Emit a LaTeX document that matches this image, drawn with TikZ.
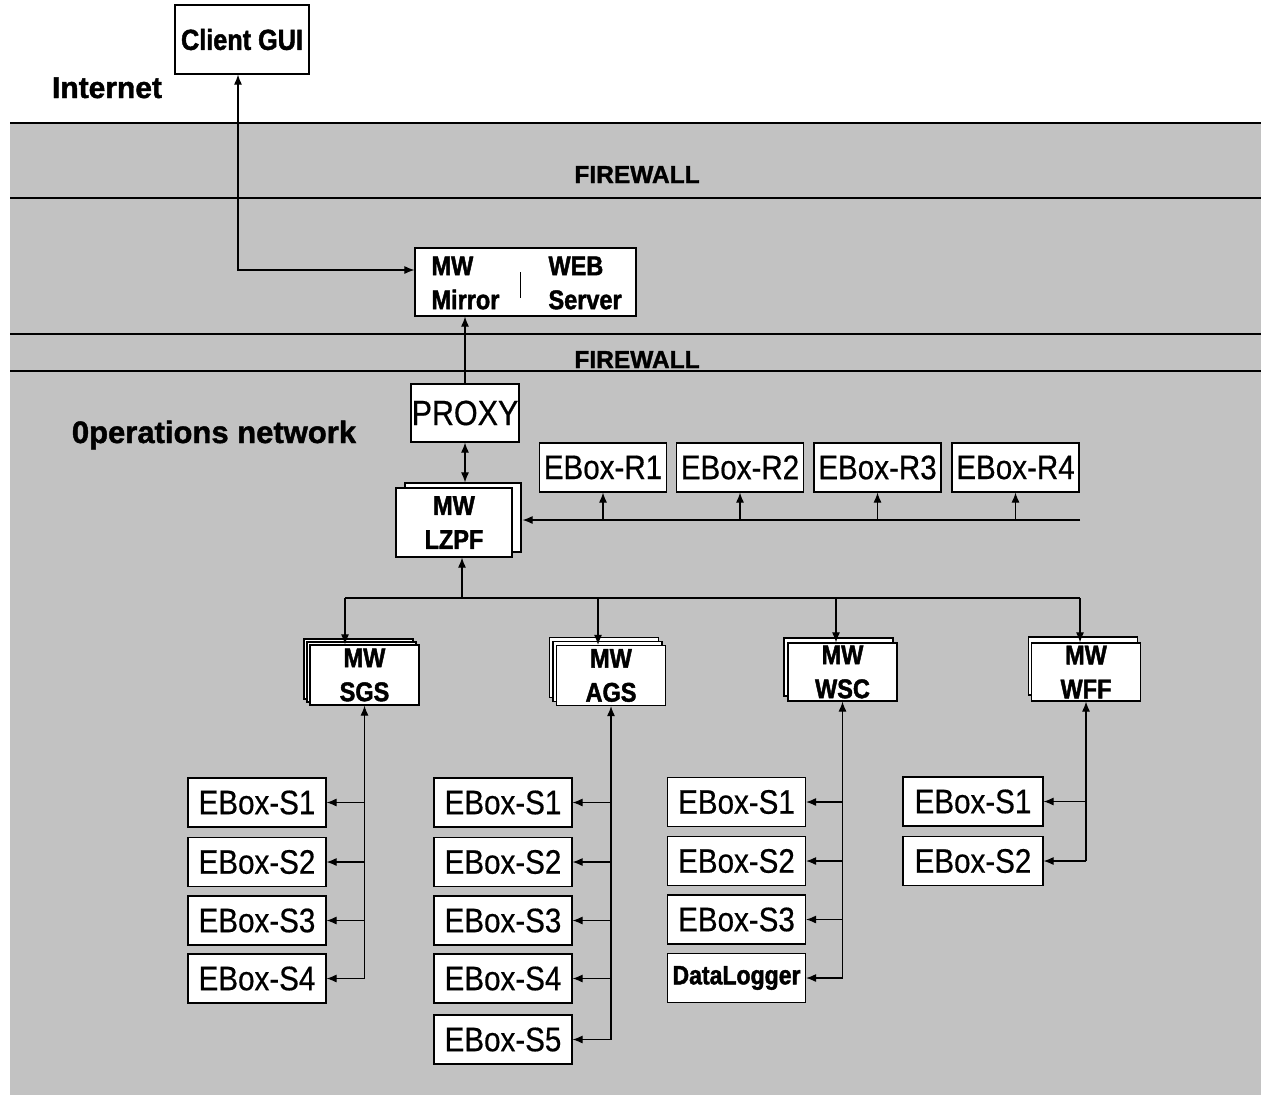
\documentclass[tikz,border=0pt]{standalone}
\usepackage{fontspec}
\setmainfont{Liberation Sans}[BoldFeatures={FakeBold=1.4}]
\newfontfamily\narrowfont[FakeStretch=0.87, FakeBold=0.5, BoldFeatures={FakeBold=1.6}]{Liberation Sans}
\usetikzlibrary{arrows.meta,shadows}
\definecolor{netgray}{gray}{0.76}

\tikzset{
  box/.style={draw, fill=white, line width=1.2pt, inner sep=0pt},
  sheet/.style 2 args={copy shadow={shadow xshift=#1, shadow yshift=#2, draw, fill=white, line width=1.2pt}},
  ebox/.style={box, minimum width=138pt, minimum height=49pt, font=\narrowfont\fontsize{34}{40}\selectfont},
  rbox/.style={ebox, minimum width=127pt},
  mwtext/.style={font=\narrowfont\bfseries\fontsize{27}{34}\selectfont},
  mwbox/.style={box, mwtext, minimum width=109pt, minimum height=60pt, align=center},
  bigbold/.style={font=\bfseries\fontsize{31}{36}\selectfont},
  walltext/.style={font=\bfseries\fontsize{24.5}{30}\selectfont, anchor=base},
  link/.style={line width=1.1pt},
  wall/.style={line width=1.5pt},
}

\begin{document}
\begin{tikzpicture}[x=1pt, y=-1pt, >={Latex[length=10pt,width=8pt]}]
    \useasboundingbox (0,0) rectangle (1261,1095);

    % Netzbereich mit Firewalls
    \fill[netgray] (10,123) rectangle (1261,1095);
    \draw[wall] (10,123) -- (1261,123);
    \draw[wall] (10,198) -- (1261,198);
    \draw[wall] (10,334) -- (1261,334);
    \draw[wall] (10,371) -- (1261,371);
    \node[walltext] (fwtop) at (637,183) {FIREWALL};
    \node[walltext] (fwbot) at (637,368) {FIREWALL};

    % Internet
    \node[box, minimum width=134pt, minimum height=69pt, font=\narrowfont\bfseries\fontsize{29}{34}\selectfont] (cgui) at (242,39.5) {Client GUI};
    \node[bigbold, font=\bfseries\fontsize{30}{36}\selectfont, anchor=base] (internet) at (107,98) {Internet};

    % DMZ
    \node[box, minimum width=221pt, minimum height=68pt] (mwweb) at (525.5,282) {};
    \node[mwtext, align=left, anchor=west] (mirror) at (428,283) {MW\\Mirror};
    \node[mwtext, align=left, anchor=west] (websrv) at (545,283) {WEB\\Server};
    \draw[line width=0.8pt] (520,272) -- (520,298);

    % Operations network
    \node[bigbold, anchor=base] (opnet) at (214,443) {0perations network};
    \node[box, minimum width=108pt, minimum height=58pt, font=\narrowfont\fontsize{35}{40}\selectfont] (proxy) at (465,413) {PROXY};
    \node[mwbox, minimum width=116pt, minimum height=69pt, sheet={9pt}{5pt}] (lzpf) at (454,522.5) {MW\\LZPF};

    \node[rbox] (r1) at (603,467.5) {EBox-R1};
    \node[rbox] (r2) at (740,467.5) {EBox-R2};
    \node[rbox] (r3) at (877.5,467.5) {EBox-R3};
    \node[rbox] (r4) at (1015.5,467.5) {EBox-R4};

    % Middleware der Stationen
    \node[mwbox, sheet={-6pt}{6pt}, sheet={-3pt}{3pt}] (sgs) at (364.5,675) {MW\\SGS};
    \node[mwbox, sheet={-7pt}{8pt}, sheet={-3.5pt}{4pt}] (ags) at (611,675.5) {MW\\AGS};
    \node[mwbox, minimum height=58pt, sheet={-4pt}{5pt}] (wsc) at (842.5,672) {MW\\WSC};
    \node[mwbox, minimum height=58pt, sheet={-3pt}{6pt}] (wff) at (1086,672) {MW\\WFF};

    % SGS
    \node[ebox] (sgs1) at (257,802.5) {EBox-S1};
    \node[ebox] (sgs2) at (257,862) {EBox-S2};
    \node[ebox] (sgs3) at (257,920.5) {EBox-S3};
    \node[ebox] (sgs4) at (257,978.5) {EBox-S4};

    % AGS
    \node[ebox] (ags1) at (503,802.5) {EBox-S1};
    \node[ebox] (ags2) at (503,862) {EBox-S2};
    \node[ebox] (ags3) at (503,920.5) {EBox-S3};
    \node[ebox] (ags4) at (503,978.5) {EBox-S4};
    \node[ebox] (ags5) at (503,1039.5) {EBox-S5};

    % WSC
    \node[ebox] (wsc1) at (736.5,802) {EBox-S1};
    \node[ebox] (wsc2) at (736.5,861) {EBox-S2};
    \node[ebox] (wsc3) at (736.5,919.5) {EBox-S3};
    \node[ebox, font=\narrowfont\bfseries\fontsize{26.5}{30}\selectfont] (wsc4) at (736.5,978) {DataLogger};

    % WFF
    \node[ebox, minimum width=140pt] (wff1) at (973,801.5) {EBox-S1};
    \node[ebox, minimum width=140pt] (wff2) at (973,861) {EBox-S2};

    % Verbindungen oben
    \draw[link, <->] ([xshift=-4pt]cgui.south) |- ([yshift=12pt]mwweb.west);
    \draw[link, ->] (proxy.north) -- (proxy.north |- mwweb.south);
    \coordinate (lzpftop) at ([yshift=5pt]lzpf.north);
    \draw[link, <->] (proxy.south) -- (proxy.south |- lzpftop);

    % Bus zu den EBox-R
    \coordinate (rbus) at (1080,520);
    \coordinate (lzpfback) at ([xshift=10pt]lzpf.east);
    \draw[link, ->] (rbus) -- (rbus -| lzpfback);
    \draw[link, ->] (r1.south |- rbus) -- (r1.south);
    \draw[link, ->] (r2.south |- rbus) -- (r2.south);
    \draw[link, ->] (r3.south |- rbus) -- (r3.south);
    \draw[link, ->] (r4.south |- rbus) -- (r4.south);

    % Bus zu den Stationen
    \coordinate (lzpfbus) at (462,598);
    \coordinate (dsgs) at (345,598);
    \coordinate (dags) at (598,598);
    \coordinate (dwsc) at (836,598);
    \coordinate (dwff) at (1080,598);
    \draw[link, ->] (lzpfbus) -- (lzpfbus |- lzpf.south);
    \draw[link] (dsgs) -- (dwff);
    \draw[link, ->] (dsgs) -- (dsgs |- sgs.north);
    \draw[link, ->] (dags) -- (dags |- ags.north);
    \draw[link, ->] (dwsc) -- (dwsc |- wsc.north);
    \draw[link, ->] (dwff) -- (dwff |- wff.north);

    % SGS-Zweige
    \draw[link, ->] (sgs4.east -| sgs.south) -- (sgs.south);
    \draw[link, ->] (sgs1.east -| sgs.south) -- (sgs1.east);
    \draw[link, ->] (sgs2.east -| sgs.south) -- (sgs2.east);
    \draw[link, ->] (sgs3.east -| sgs.south) -- (sgs3.east);
    \draw[link, ->] (sgs4.east -| sgs.south) -- (sgs4.east);

    % AGS-Zweige
    \draw[link, ->] (ags5.east -| ags.south) -- (ags.south);
    \draw[link, ->] (ags1.east -| ags.south) -- (ags1.east);
    \draw[link, ->] (ags2.east -| ags.south) -- (ags2.east);
    \draw[link, ->] (ags3.east -| ags.south) -- (ags3.east);
    \draw[link, ->] (ags4.east -| ags.south) -- (ags4.east);
    \draw[link, ->] (ags5.east -| ags.south) -- (ags5.east);

    % WSC-Zweige
    \draw[link, ->] (wsc4.east -| wsc.south) -- (wsc.south);
    \draw[link, ->] (wsc1.east -| wsc.south) -- (wsc1.east);
    \draw[link, ->] (wsc2.east -| wsc.south) -- (wsc2.east);
    \draw[link, ->] (wsc3.east -| wsc.south) -- (wsc3.east);
    \draw[link, ->] (wsc4.east -| wsc.south) -- (wsc4.east);

    % WFF-Zweige
    \draw[link, ->] (wff2.east -| wff.south) -- (wff.south);
    \draw[link, ->] (wff1.east -| wff.south) -- (wff1.east);
    \draw[link, ->] (wff2.east -| wff.south) -- (wff2.east);
\end{tikzpicture}
\end{document}
